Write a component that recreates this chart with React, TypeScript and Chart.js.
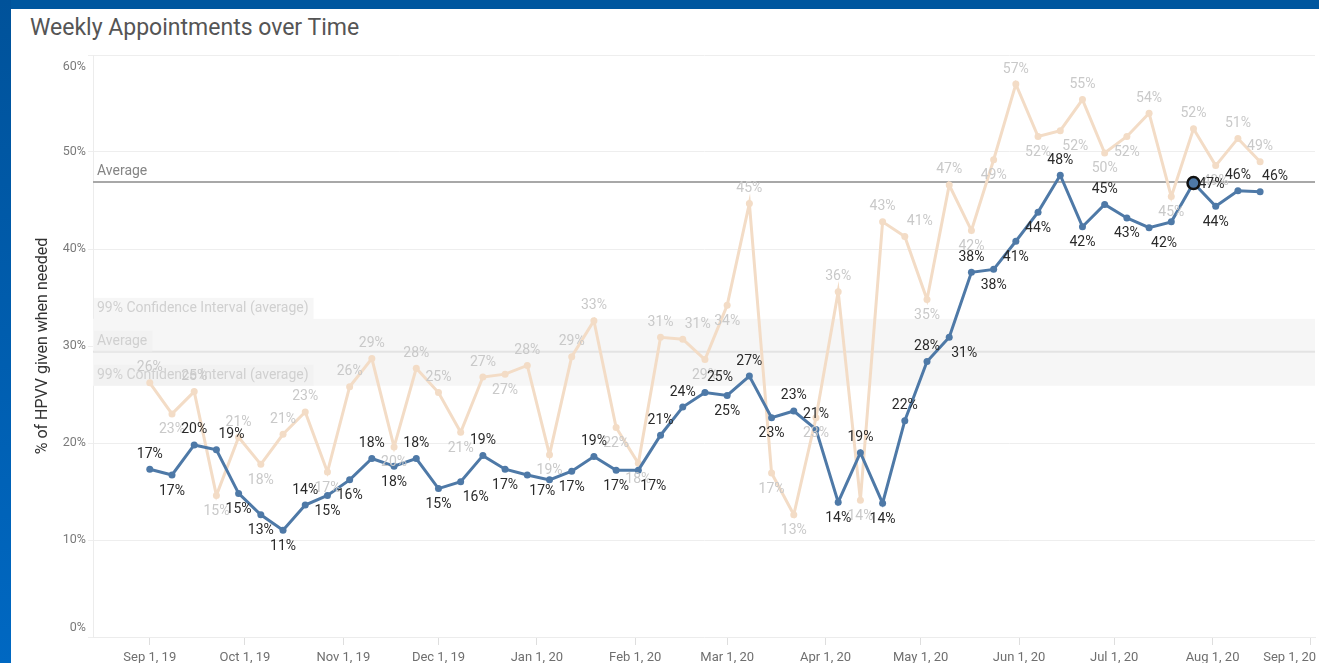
import React, { useEffect, useRef } from "react";
import { Chart, registerables } from "chart.js";

Chart.register(...registerables);

// ---------- data ----------
const weeks = [
  "2019-09-01", "2019-09-08", "2019-09-15", "2019-09-22", "2019-09-29",
  "2019-10-06", "2019-10-13", "2019-10-20", "2019-10-27",
  "2019-11-03", "2019-11-10", "2019-11-17", "2019-11-24",
  "2019-12-01", "2019-12-08", "2019-12-15", "2019-12-22", "2019-12-29",
  "2020-01-05", "2020-01-12", "2020-01-19", "2020-01-26",
  "2020-02-02", "2020-02-09", "2020-02-16", "2020-02-23",
  "2020-03-01", "2020-03-08", "2020-03-15", "2020-03-22", "2020-03-29",
  "2020-04-05", "2020-04-12", "2020-04-19", "2020-04-26",
  "2020-05-03", "2020-05-10", "2020-05-17", "2020-05-24", "2020-05-31",
  "2020-06-07", "2020-06-14", "2020-06-21", "2020-06-28",
  "2020-07-05", "2020-07-12", "2020-07-19", "2020-07-26",
  "2020-08-02", "2020-08-09", "2020-08-16",
];

const selectedPct = [
  17.3, 16.7, 19.8, 19.3, 14.8, 12.6, 11.0, 13.6, 14.6, 16.2,
  18.4, 17.6, 18.4, 15.3, 16.0, 18.7, 17.3, 16.7, 16.2, 17.1,
  18.6, 17.2, 17.2, 20.8, 23.7, 25.2, 24.9, 26.9, 22.6, 23.3,
  21.4, 13.9, 19.0, 13.8, 22.3, 28.4, 30.9, 37.6, 37.9, 40.8,
  43.8, 47.6, 42.3, 44.6, 43.2, 42.2, 42.8, 46.8, 44.4, 46.0,
  45.9,
];

const otherPct = [
  26.2, 23.0, 25.3, 14.6, 20.6, 17.8, 20.9, 23.2, 17.0, 25.8,
  28.7, 19.6, 27.7, 25.2, 21.1, 26.8, 27.1, 28.0, 18.8, 28.9,
  32.6, 21.6, 17.9, 30.9, 30.7, 28.6, 34.2, 44.7, 16.9, 12.6,
  22.6, 35.6, 14.1, 42.8, 41.3, 34.8, 46.6, 41.9, 49.2, 57.0,
  51.6, 52.2, 55.4, 49.9, 51.6, 54.0, 45.4, 52.4, 48.6, 51.4,
  49.0,
];

const yTickValues = [0, 10, 20, 30, 40, 50, 60];
const yTickLabels = ["0%", "10%", "20%", "30%", "40%", "50%", "60%"];

const xTickDates = [
  "2019-09-01", "2019-10-01", "2019-11-01", "2019-12-01", "2020-01-01",
  "2020-02-01", "2020-03-01", "2020-04-01", "2020-05-01", "2020-06-01",
  "2020-07-01", "2020-08-01", "2020-09-01",
];
const xTickLabels = [
  "Sep 1, 19", "Oct 1, 19", "Nov 1, 19", "Dec 1, 19", "Jan 1, 20",
  "Feb 1, 20", "Mar 1, 20", "Apr 1, 20", "May 1, 20", "Jun 1, 20",
  "Jul 1, 20", "Aug 1, 20", "Sep 1, 20",
];

const averageSelected = 46.9;
const averageOther = 29.4;
const ciLow = 25.9;
const ciHigh = 32.8;
const highlightIndex = 47;

// ---------- styling ----------
const FONT = "Roboto, 'Open Sans', sans-serif";
const BLUE = "#4e79a7";
const PEACH = "#f3dcc6";
const X_MIN = -17.9;
const X_MAX = 367.3;

const DAY = 86400000;
const ORIGIN = Date.UTC(2019, 8, 1);
const toDay = (s: string) => {
  const [y, m, d] = s.split("-").map(Number);
  return (Date.UTC(y, m - 1, d) - ORIGIN) / DAY;
};

const refPlugin = {
  id: "refLines",
  beforeDatasetsDraw(chart: any) {
    const { ctx, chartArea: a, scales } = chart;
    const y = scales.y;
    ctx.save();
    const yHi = y.getPixelForValue(ciHigh);
    const yLo = y.getPixelForValue(ciLow);
    ctx.fillStyle = "#f6f6f6";
    ctx.fillRect(a.left, yHi, a.right - a.left, yLo - yHi);

    const hline = (v: number, color: string, w: number) => {
      const py = y.getPixelForValue(v);
      ctx.strokeStyle = color;
      ctx.lineWidth = w;
      ctx.beginPath();
      ctx.moveTo(a.left, py);
      ctx.lineTo(a.right, py);
      ctx.stroke();
    };
    hline(averageOther, "#e3e3e3", 2);
    hline(averageSelected, "#a8a8a8", 2);

    ctx.font = `14px ${FONT}`;
    ctx.textAlign = "left";
    ctx.textBaseline = "middle";
    const faintLabel = (v: number, text: string) => {
      const py = y.getPixelForValue(v);
      const w = ctx.measureText(text).width;
      ctx.fillStyle = "rgba(238,238,238,0.55)";
      ctx.fillRect(a.left + 1, py - 21, w + 8, 21);
      ctx.fillStyle = "#d0d0d0";
      ctx.fillText(text, a.left + 4, py - 10.5);
    };
    faintLabel(ciHigh, "99% Confidence Interval (average)");
    faintLabel(averageOther, "Average");
    faintLabel(ciLow, "99% Confidence Interval (average)");

    ctx.fillStyle = "#858585";
    ctx.fillText("Average", a.left + 4, y.getPixelForValue(averageSelected) - 11);
    ctx.restore();
  },
};

const axisLabelPlugin = {
  id: "axisLabels",
  afterDraw(chart: any) {
    const { ctx, chartArea: a, scales, width } = chart;
    ctx.save();
    ctx.font = `12.5px ${FONT}`;
    ctx.fillStyle = "#7a7a7a";
    ctx.textBaseline = "middle";
    ctx.textAlign = "right";
    yTickValues.forEach((v, i) => {
      let py = scales.y.getPixelForValue(v);
      if (i === yTickValues.length - 1) py += 12;
      if (i === 0) py -= 9;
      ctx.fillText(yTickLabels[i], a.left - 7, py);
    });
    ctx.font = `13px ${FONT}`;
    ctx.textAlign = "center";
    ctx.fillStyle = "#6f6f6f";
    xTickDates.forEach((d, i) => {
      let px = scales.x.getPixelForValue(toDay(d));
      const w = ctx.measureText(xTickLabels[i]).width;
      if (px + w / 2 > width - 3) px = width - 3 - w / 2;
      ctx.fillText(xTickLabels[i], px, a.bottom + 21);
    });
    ctx.restore();
  },
};

const pointLabelPlugin = {
  id: "pointLabels",
  afterDatasetsDraw(chart: any) {
    const ctx = chart.ctx;
    ctx.save();
    ctx.font = `14px ${FONT}`;
    ctx.textBaseline = "middle";
    [1, 0].forEach((di) => {
      const meta = chart.getDatasetMeta(di);
      const vals: number[] = chart.data.datasets[di].data.map((p: any) => p.y);
      const boxes: any[] = [];
      ctx.fillStyle = di === 0 ? "#2a2a2a" : "#c9c9c9";
      const n = vals.length;
      meta.data.forEach((pt: any, i: number) => {
        const v = vals[i];
        const text = Math.round(v) + "%";
        const w = ctx.measureText(text).width;
        ctx.textAlign = "center";
        if (di === 0 && i === highlightIndex) {
          ctx.textAlign = "left";
          ctx.fillText(text, pt.x + 5, pt.y + 1);
          boxes.push({ l: pt.x + 5, r: pt.x + 5 + w, t: pt.y - 7, b: pt.y + 8 });
          return;
        }
        let above: boolean;
        if (i === 0) above = v >= vals[1] - 3;
        else if (i === n - 1) above = v >= vals[i - 1] - 3;
        else above = v >= (vals[i - 1] + vals[i + 1]) / 2;
        const cy = above ? pt.y - 15 : pt.y + 16;
        const tryPlace = (cx: number) => {
          const box = { l: cx - w / 2, r: cx + w / 2, t: cy - 7.5, b: cy + 7.5 };
          const hit = boxes.some(
            (b) => !(box.r < b.l || box.l > b.r || box.b < b.t || box.t > b.b)
          );
          return hit ? null : box;
        };
        let cx = pt.x;
        let box = tryPlace(cx);
        if (!box) {
          cx = pt.x + w / 2 + 2;
          box = tryPlace(cx);
        }
        if (!box) return;
        boxes.push(box);
        ctx.fillText(text, cx, cy);
      });
    });
    ctx.restore();
  },
};

export default function App() {
  const canvasRef = useRef<HTMLCanvasElement | null>(null);

  useEffect(() => {
    const canvas = canvasRef.current;
    if (!canvas) return;
    const chart = new Chart(canvas, {
      type: "line",
      data: {
        datasets: [
          {
            label: "HPVV given when needed",
            data: weeks.map((w, i) => ({ x: toDay(w), y: selectedPct[i] })),
            borderColor: BLUE,
            backgroundColor: BLUE,
            borderWidth: 3,
            pointRadius: (c: any) => (c.dataIndex === highlightIndex ? 6 : 3.5),
            pointBorderColor: (c: any) => (c.dataIndex === highlightIndex ? "#111111" : BLUE),
            pointBorderWidth: (c: any) => (c.dataIndex === highlightIndex ? 2.5 : 0),
            pointBackgroundColor: BLUE,
            tension: 0,
            order: 0,
          },
          {
            label: "Comparison",
            data: weeks.map((w, i) => ({ x: toDay(w), y: otherPct[i] })),
            borderColor: PEACH,
            backgroundColor: PEACH,
            borderWidth: 3,
            pointRadius: 3.5,
            pointBorderWidth: 0,
            pointBackgroundColor: PEACH,
            tension: 0,
            order: 1,
          },
        ],
      },
      options: {
        animation: false,
        responsive: false,
        maintainAspectRatio: false,
        layout: { padding: { top: 46, left: 0, right: 0, bottom: 0 } },
        plugins: {
          legend: { display: false },
          tooltip: { enabled: false },
        },
        scales: {
          x: {
            type: "linear",
            min: X_MIN,
            max: X_MAX,
            afterBuildTicks: (s: any) => {
              s.ticks = xTickDates.map((d) => ({ value: toDay(d) }));
            },
            afterFit: (s: any) => {
              s.height = 26;
            },
            grid: { drawOnChartArea: false, drawTicks: true, tickLength: 8, color: "#dedede" },
            border: { display: true, color: "#ececec" },
            ticks: { display: false },
          },
          y: {
            type: "linear",
            min: 0,
            max: 60,
            afterBuildTicks: (s: any) => {
              s.ticks = yTickValues.map((v) => ({ value: v }));
            },
            afterFit: (s: any) => {
              s.width = 82;
            },
            grid: { color: "#eeeeee", drawTicks: true, tickLength: 5 },
            border: { display: true, color: "#ececec" },
            ticks: { display: false },
            title: {
              display: true,
              text: "% of HPVV given when needed",
              font: { family: FONT, size: 16 },
              color: "#333333",
              padding: { top: 22, bottom: 0 },
            },
          },
        },
      },
      plugins: [refPlugin, pointLabelPlugin, axisLabelPlugin],
    } as any);
    return () => chart.destroy();
  }, []);

  return (
    <div
      style={{
        position: "fixed",
        left: 0,
        top: 0,
        width: 1319,
        height: 663,
        background: "#00579f",
        overflow: "hidden",
      }}
    >
      <div
        style={{
          position: "absolute",
          left: 0,
          top: 0,
          width: 11,
          height: 663,
          background: "linear-gradient(#00529a, #0068c2)",
        }}
      />
      <div
        style={{
          position: "absolute",
          left: 11,
          top: 9,
          width: 1308,
          height: 654,
          background: "#ffffff",
        }}
      >
        <div
          style={{
            position: "absolute",
            left: 19,
            top: 5,
            fontFamily: FONT,
            fontSize: 23,
            lineHeight: "28px",
            color: "#555555",
            whiteSpace: "nowrap",
          }}
        >
          Weekly Appointments over Time
        </div>
        <canvas
          ref={canvasRef}
          width={1308}
          height={654}
          style={{ position: "absolute", left: 0, top: 0, display: "block" }}
        />
      </div>
    </div>
  );
}
